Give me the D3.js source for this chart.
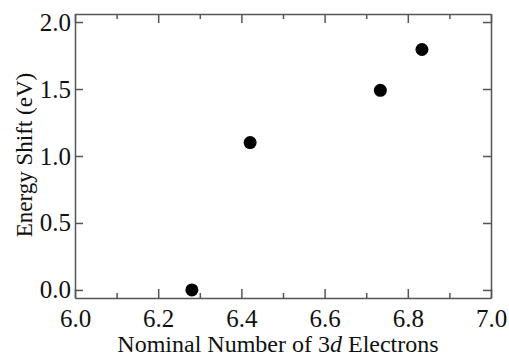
<!DOCTYPE html>
<html>
<head>
<meta charset="utf-8">
<script src="https://cdn.jsdelivr.net/npm/d3@7"></script>
<style>
  body { margin: 0; background: #fff; }
  text { font-family: "Liberation Serif", "Times New Roman", serif; fill: #111; }
</style>
</head>
<body>
<script>
// values
const electrons = [6.281, 6.421, 6.734, 6.834];
const shifts = [0.0, 1.10, 1.49, 1.795];
const xTicks = [6.0, 6.2, 6.4, 6.6, 6.8, 7.0];
const xMinor = [6.1, 6.3, 6.5, 6.7, 6.9];
const yTicks = [0.0, 0.5, 1.0, 1.5, 2.0];

const W = 509, H = 356;
const m = { top: 14, right: 18, bottom: 58, left: 75 };

const svg = d3.select("body").append("svg")
  .attr("width", W)
  .attr("height", H);

const x = d3.scaleLinear().domain([6.0, 7.0]).range([m.left, W - m.right]);
const y = d3.scaleLinear().domain([-0.06, 2.06]).range([H - m.bottom, m.top]);

const axisColor = "#555";

// bottom axis, ticks point inward
svg.append("g")
  .attr("transform", `translate(0,${H - m.bottom})`)
  .call(d3.axisBottom(x).tickValues(xTicks).tickFormat(d3.format(".1f"))
    .tickSizeInner(-9).tickSizeOuter(0).tickPadding(11));
svg.append("g")
  .attr("transform", `translate(0,${H - m.bottom})`)
  .call(d3.axisBottom(x).tickValues(xMinor).tickFormat("").tickSizeInner(-5).tickSizeOuter(0))
  .select(".domain").remove();

// top axis
svg.append("g")
  .attr("transform", `translate(0,${m.top})`)
  .call(d3.axisTop(x).tickValues(xTicks).tickFormat("").tickSizeInner(-9).tickSizeOuter(0));
svg.append("g")
  .attr("transform", `translate(0,${m.top})`)
  .call(d3.axisTop(x).tickValues(xMinor).tickFormat("").tickSizeInner(-5).tickSizeOuter(0))
  .select(".domain").remove();

// left axis
svg.append("g")
  .attr("transform", `translate(${m.left},0)`)
  .call(d3.axisLeft(y).tickValues(yTicks).tickFormat(d3.format(".1f"))
    .tickSizeInner(-8).tickSizeOuter(0).tickPadding(4));

// right axis
svg.append("g")
  .attr("transform", `translate(${W - m.right},0)`)
  .call(d3.axisRight(y).tickValues(yTicks).tickFormat("").tickSizeInner(-8).tickSizeOuter(0));

svg.selectAll(".domain, .tick line")
  .attr("stroke", axisColor)
  .attr("stroke-width", 1.5);
svg.selectAll(".tick text")
  .style("font-family", "'Liberation Serif', serif")
  .style("font-size", "25px")
  .attr("fill", "#111");

// points
svg.append("g")
  .selectAll("circle")
  .data(electrons)
  .join("circle")
  .attr("cx", d => x(d))
  .attr("cy", (d, i) => y(shifts[i]))
  .attr("r", 6.5)
  .attr("fill", "#000");

// axis titles
const xt = svg.append("text")
  .attr("x", 278)
  .attr("y", 352)
  .attr("text-anchor", "middle")
  .style("font-size", "24px");
xt.append("tspan").text("Nominal Number of 3");
xt.append("tspan").attr("font-style", "italic").text("d");
xt.append("tspan").text(" Electrons");

svg.append("text")
  .attr("transform", "translate(32,155) rotate(-90)")
  .attr("text-anchor", "middle")
  .style("font-size", "23px")
  .text("Energy Shift (eV)");
</script>
</body>
</html>
